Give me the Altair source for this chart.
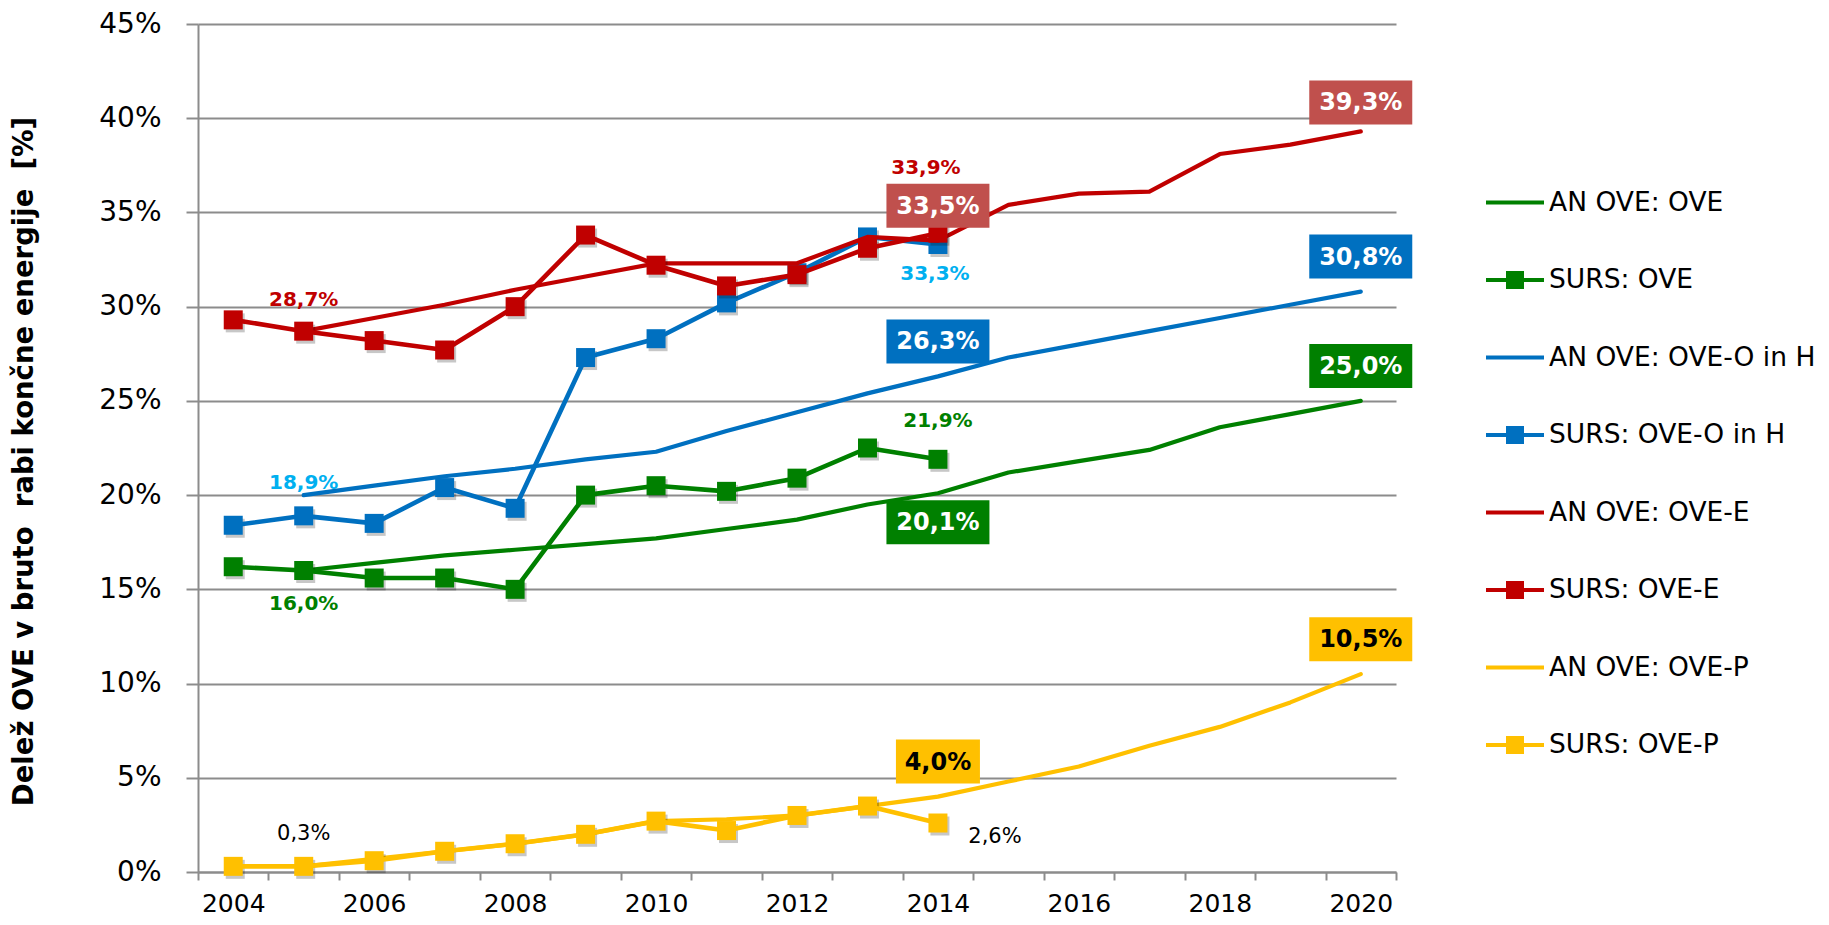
import altair as alt
import pandas as pd

# ---------------- data ----------------
surs_years = list(range(2004, 2015))
an_years = list(range(2005, 2021))

ove_surs = [16.2, 16.0, 15.6, 15.6, 15.0, 20.0, 20.5, 20.2, 20.9, 22.5, 21.9]
oh_surs = [18.4, 18.9, 18.5, 20.4, 19.3, 27.3, 28.3, 30.2, 31.8, 33.7, 33.3]
e_surs = [29.3, 28.7, 28.2, 27.7, 30.0, 33.8, 32.2, 31.1, 31.7, 33.1, 33.9]
p_surs = [0.3, 0.3, 0.6, 1.1, 1.5, 2.0, 2.7, 2.2, 3.0, 3.5, 2.6]

ove_an = [16.0, 16.4, 16.8, 17.1, 17.4, 17.7, 18.2, 18.7, 19.5, 20.1, 21.2, 21.8, 22.4, 23.6, 24.3, 25.0]
oh_an = [20.0, 20.5, 21.0, 21.4, 21.9, 22.3, 23.4, 24.4, 25.4, 26.3, 27.3, 28.0, 28.7, 29.4, 30.1, 30.8]
e_an = [28.7, 29.4, 30.1, 30.9, 31.6, 32.3, 32.3, 32.3, 33.7, 33.5, 35.4, 36.0, 36.1, 38.1, 38.6, 39.3]
p_an = [0.3, 0.7, 1.1, 1.5, 2.0, 2.7, 2.8, 3.0, 3.5, 4.0, 4.8, 5.6, 6.7, 7.7, 9.0, 10.5]

series_names = ["AN OVE: OVE", "SURS: OVE", "AN OVE: OVE-O in H", "SURS: OVE-O in H",
                "AN OVE: OVE-E", "SURS: OVE-E", "AN OVE: OVE-P", "SURS: OVE-P"]
y_ticks = [0, 5, 10, 15, 20, 25, 30, 35, 40, 45]
y_title = "Delež OVE v bruto \u00a0rabi končne energije \u00a0[%]"

# ---------------- styles ----------------
GREEN, BLUE, RED, YELLOW = "#008000", "#0070C0", "#C00000", "#FFC000"
RED_BOX = "#C0504D"
LIGHT_BLUE = "#00B0F0"
GRID = "#8c8c8c"
FONT = "DejaVu Sans"

W, H = 1198, 848
band = W / 17.0

x_axis = alt.Axis(
    values=[y + 0.5 for y in range(2003, 2021)],
    labelExpr="(datum.value + 0.5) % 2 == 0 ? format(datum.value + 0.5, 'd') : ''",
    labelOffset=band / 2, tickSize=8, tickColor=GRID, tickWidth=2,
    domainColor=GRID, domainWidth=2, grid=False, labelFont=FONT, labelFontSize=25,
    labelColor="black", labelPadding=11, labelOverlap=False, labelFlush=False, title=None,
)
y_axis = alt.Axis(
    values=y_ticks, labelExpr="datum.value + '%'", grid=True, gridColor=GRID, gridWidth=2,
    tickSize=12, tickColor=GRID, tickWidth=2, domainColor=GRID, domainWidth=2,
    labelFont=FONT, labelFontSize=28, labelPadding=25, labelColor="black", labelFlush=False,
    title=y_title, titleFont=FONT, titleFontSize=27.5, titleFontWeight="bold", titleColor="black",
    titleAngle=270, titleX=-174, titleY=437, titleBaseline="middle", titleAlign="center",
)
X = alt.X("year:Q", scale=alt.Scale(domain=[2003.5, 2020.5], nice=False, zero=False), axis=x_axis)
Y = alt.Y("v:Q", scale=alt.Scale(domain=[0, 45], nice=False), axis=y_axis)


def frame(years, vals):
    return pd.DataFrame({"year": years, "v": vals})


def an_layer(vals, color):
    return alt.Chart(frame(an_years, vals)).mark_line(
        color=color, strokeWidth=4.2, strokeJoin="round", strokeCap="round"
    ).encode(x=X, y=Y)


def surs_layers(vals, color):
    df = frame(surs_years, vals)
    base = alt.Chart(df)
    shadow = base.mark_point(shape="square", size=361, filled=True, color="#000000",
                             opacity=0.22, xOffset=2, yOffset=3, strokeWidth=0).encode(x=X, y=Y)
    line = base.mark_line(color=color, strokeWidth=4.6, strokeJoin="round",
                          strokeCap="round").encode(x=X, y=Y)
    pts = base.mark_point(shape="square", size=361, filled=True, color=color,
                          opacity=1, strokeWidth=0).encode(x=X, y=Y)
    return [shadow, line, pts]


TEXT_EXPR = "replace(format(datum.v, '.1f'), '.', ',') + '%'"


def plain_label(years, vals, year, color, size, bold, dx, dy):
    i = years.index(year)
    df = frame([year], [vals[i]])
    return alt.Chart(df).transform_calculate(label=TEXT_EXPR).mark_text(
        color=color, font=FONT, fontSize=size, fontWeight="bold" if bold else "normal",
        dx=dx, dy=dy, align="center", baseline="middle"
    ).encode(x=X, y=Y, text="label:N")


def box_label(years, vals, year, fill, text_color, dy, bw=103, bh=44):
    i = years.index(year)
    df = frame([year], [vals[i]])
    r = bh / bw
    path = f"M-1,-{r:.4f} L1,-{r:.4f} L1,{r:.4f} L-1,{r:.4f} Z"
    box = alt.Chart(df).mark_point(shape=path, size=bw * bw, filled=True, color=fill,
                                   opacity=1, strokeWidth=0, yOffset=dy).encode(x=X, y=Y)
    txt = alt.Chart(df).transform_calculate(label=TEXT_EXPR).mark_text(
        color=text_color, font=FONT, fontSize=24, fontWeight="bold", dy=dy + 1,
        align="center", baseline="middle"
    ).encode(x=X, y=Y, text="label:N")
    return [box, txt]


layers = []
layers.append(an_layer(ove_an, GREEN))
layers += surs_layers(ove_surs, GREEN)
layers.append(an_layer(oh_an, BLUE))
layers += surs_layers(oh_surs, BLUE)
layers.append(an_layer(e_an, RED))
layers += surs_layers(e_surs, RED)
layers.append(an_layer(p_an, YELLOW))
layers += surs_layers(p_surs, YELLOW)

# plain labels
layers.append(plain_label(surs_years, e_surs, 2005, RED, 20, True, 0, -31))
layers.append(plain_label(surs_years, oh_surs, 2005, LIGHT_BLUE, 20, True, 0, -33))
layers.append(plain_label(surs_years, ove_surs, 2005, GREEN, 20, True, 0, 34))
layers.append(plain_label(surs_years, p_surs, 2005, "black", 21, False, 0, -32))
layers.append(plain_label(surs_years, e_surs, 2014, RED, 20, True, -12, -65))
layers.append(plain_label(surs_years, oh_surs, 2014, LIGHT_BLUE, 20, True, -3, 30))
layers.append(plain_label(surs_years, ove_surs, 2014, GREEN, 20, True, 0, -38))
layers.append(plain_label(surs_years, p_surs, 2014, "black", 21, False, 57, 14))

# boxed labels
layers += box_label(an_years, e_an, 2014, RED_BOX, "white", -35)
layers += box_label(an_years, oh_an, 2014, BLUE, "white", -35)
layers += box_label(an_years, ove_an, 2014, GREEN, "white", 29)
layers += box_label(an_years, p_an, 2014, YELLOW, "black", -35, bw=84)
layers += box_label(an_years, e_an, 2020, RED_BOX, "white", -29)
layers += box_label(an_years, oh_an, 2020, BLUE, "white", -35)
layers += box_label(an_years, ove_an, 2020, GREEN, "white", -35)
layers += box_label(an_years, p_an, 2020, YELLOW, "black", -35)

# legend (custom symbols: line, or line with square)
LINE_PATH = "M-1,-0.07 L1,-0.07 L1,0.07 L-1,0.07 Z"
SQ_PATH = LINE_PATH + " M-0.31,-0.31 L0.31,-0.31 L0.31,0.31 L-0.31,0.31 Z"
legend_colors = [GREEN, GREEN, BLUE, BLUE, RED, RED, YELLOW, YELLOW]
legend_shapes = [LINE_PATH, SQ_PATH] * 4

leg = alt.Legend(
    title=None, orient="none", legendX=1288, legendY=166, padding=0,
    symbolSize=3364, symbolStrokeWidth=0, symbolOpacity=1,
    labelFont=FONT, labelFontSize=26.5, labelColor="black", labelOffset=5,
    rowPadding=50.5, clipHeight=25, labelLimit=400,
)
legend_layer = alt.Chart(pd.DataFrame({"series": series_names})).transform_filter("false").mark_point(
    filled=True, opacity=1
).encode(
    color=alt.Color("series:N", scale=alt.Scale(domain=series_names, range=legend_colors), legend=leg),
    shape=alt.Shape("series:N", scale=alt.Scale(domain=series_names, range=legend_shapes), legend=leg),
)
layers.append(legend_layer)

chart = alt.layer(*layers).properties(
    width=W, height=H,
    padding={"left": 190, "top": 16, "right": 425, "bottom": 45},
    autosize=alt.AutoSizeParams(type="none"),
).configure_view(stroke=None)

chart.save("out.html", embed_options={"renderer": "svg", "actions": False})
